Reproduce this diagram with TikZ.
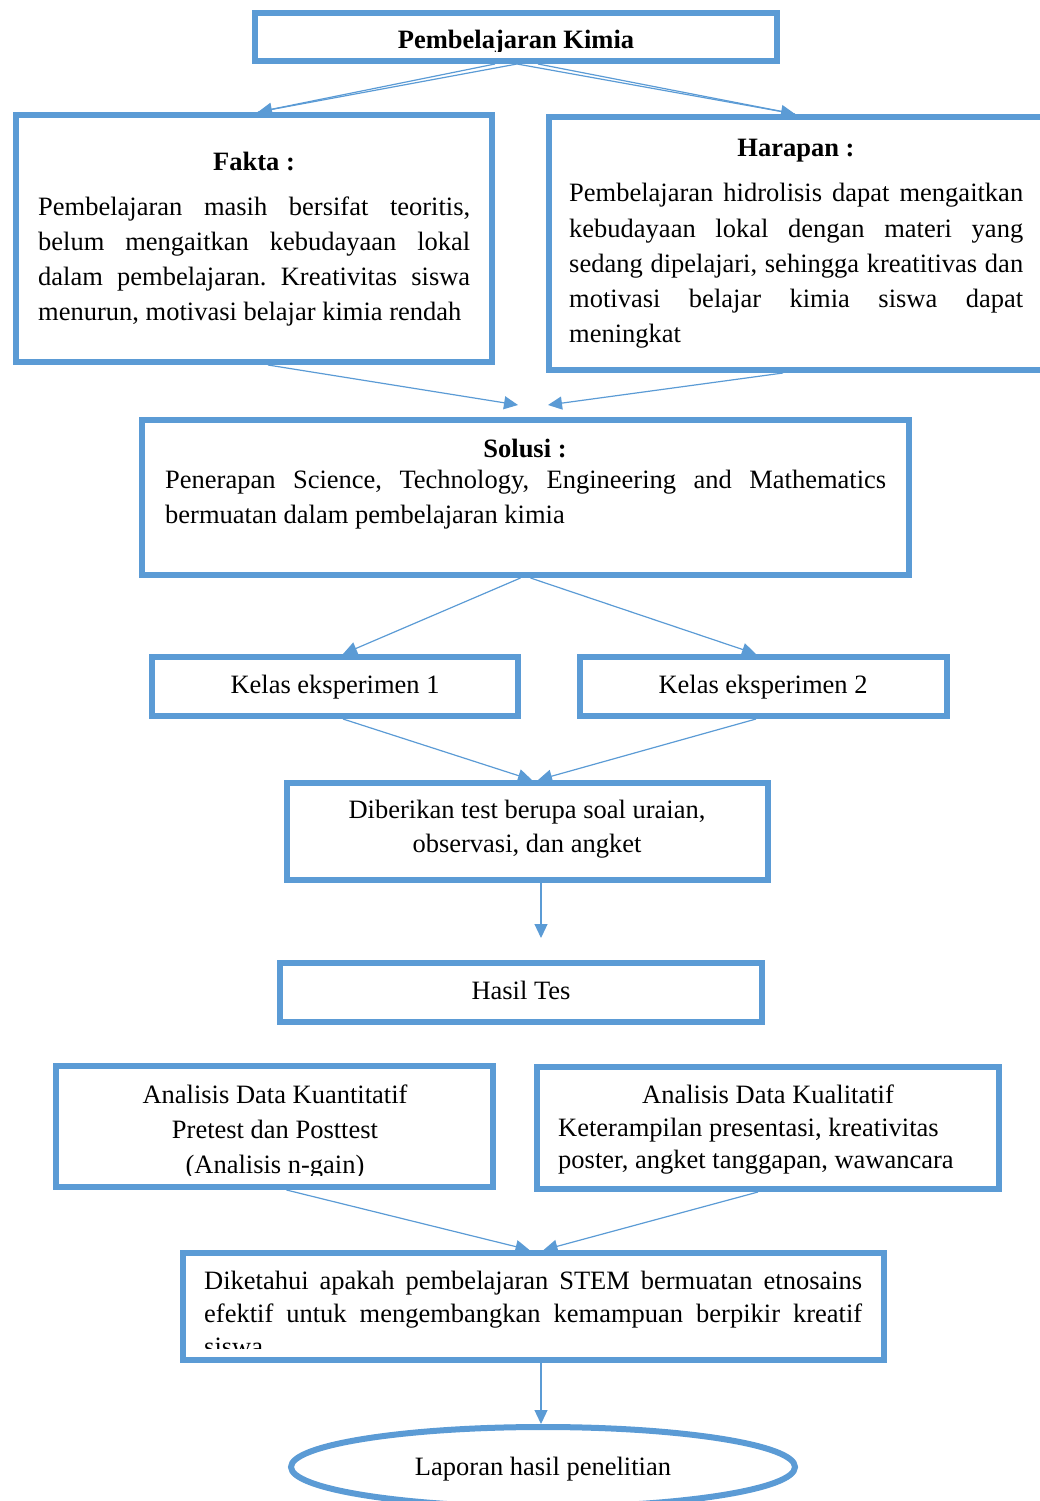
\documentclass[tikz,border=0pt]{standalone}
\usepackage{fontspec}
\setmainfont{Liberation Serif}
\usetikzlibrary{arrows.meta,shapes.geometric}
\definecolor{flow}{RGB}{91,155,213}
\frenchspacing
% a justified line of fixed width
\newcommand{\spreadline}[2]{\makebox[#1][s]{#2}}
% stacked lines whose baseline is the first line's baseline
\newcommand{\leftlines}[2]{\vtop{\baselineskip=#1\relax\lineskiplimit=-100pt\halign{##\hfil\cr #2\crcr}}}
\newcommand{\centerlines}[2]{\vtop{\baselineskip=#1\relax\lineskiplimit=-100pt\halign{\hfil##\hfil\cr #2\crcr}}}

\begin{document}
\begin{tikzpicture}[x=1pt,y=-1pt,
  box/.style={draw=flow,line width=6pt,fill=white,rectangle,inner sep=0pt},
  oval/.style={draw=flow,line width=6pt,fill=white,ellipse,inner sep=0pt},
  conn/.style={draw=flow,line width=1.2pt,-{Triangle[length=14pt,width=13pt]}},
  plain/.style={draw=flow,line width=1.2pt},
  txt/.style={inner sep=0pt,font=\fontsize{26.5}{35}\selectfont},
  head/.style={txt,font=\fontsize{26.5}{35}\selectfont\bfseries,anchor=base},
  ctext/.style={txt,anchor=base},
  ltext/.style={txt,anchor=base west},
]
\useasboundingbox (0,0) rectangle (1039,1501);

% boxes
\node[box,minimum width=522,minimum height=48]  (top)     at (516,37) {};
\node[box,minimum width=476,minimum height=247] (fakta)   at (254,238.5) {};
\node[box,minimum width=498,minimum height=253] (harapan) at (798,243.5) {};
\node[box,minimum width=767,minimum height=155] (solusi)  at (525.5,497.5) {};
\node[box,minimum width=366,minimum height=59]  (k1)      at (335,686.5) {};
\node[box,minimum width=367,minimum height=59]  (k2)      at (763.5,686.5) {};
\node[box,minimum width=481,minimum height=97]  (dib)     at (527.5,831.5) {};
\node[box,minimum width=482,minimum height=59]  (hasil)   at (521,992.5) {};
\node[box,minimum width=437,minimum height=121] (kuant)   at (274.5,1126.5) {};
\node[box,minimum width=462,minimum height=122] (kual)    at (768,1128) {};
\node[box,minimum width=701,minimum height=107] (dik)     at (533.5,1306.5) {};
\node[oval,minimum width=504,minimum height=80] (lap)     at (543,1467) {};

% texts
\begin{scope}
  \clip (255,13) rectangle (777,52);
  \node[head] (ttop) at (516,49) {Pembelajaran Kimia};
\end{scope}

\node[head] (tfakta) at (254,170) {Fakta :};
\node[ltext] (pfakta) at (38,215) {\leftlines{35.2pt}{%
  \spreadline{432pt}{Pembelajaran masih bersifat teoritis,}\cr
  \spreadline{432pt}{belum mengaitkan kebudayaan lokal}\cr
  \spreadline{432pt}{dalam pembelajaran. Kreativitas siswa}\cr
  menurun, motivasi belajar kimia rendah}};

\node[head] (tharapan) at (796,156.7) {Harapan :};
\node[ltext] (pharapan) at (569,201.7) {\leftlines{35.3pt}{%
  \spreadline{454pt}{Pembelajaran hidrolisis dapat mengaitkan}\cr
  \spreadline{454pt}{kebudayaan lokal dengan materi yang}\cr
  \spreadline{454pt}{sedang dipelajari, sehingga kreatitivas dan}\cr
  \spreadline{454pt}{motivasi belajar kimia siswa dapat}\cr
  meningkat}};

\node[head] (tsolusi) at (525,457) {Solusi :};
\node[ltext] (psolusi) at (165,488) {\leftlines{35pt}{%
  \spreadline{721pt}{Penerapan Science, Technology, Engineering and Mathematics}\cr
  bermuatan dalam pembelajaran kimia}};

\node[ctext] (tk1) at (335,693) {Kelas eksperimen 1};
\node[ctext] (tk2) at (763,693) {Kelas eksperimen 2};

\node[ctext] (tdib) at (527,818) {\centerlines{34pt}{Diberikan test berupa soal uraian,\cr observasi, dan angket}};

\node[ctext] (thasil) at (521,999) {Hasil Tes};

\begin{scope}
  \clip (59,1067) rectangle (490,1175);
  \node[ctext] (tkuant) at (275,1103) {\centerlines{35pt}{Analisis Data Kuantitatif\cr Pretest dan Posttest\cr (Analisis n-gain)}};
\end{scope}

\node[ctext] (tkual) at (768,1103) {Analisis Data Kualitatif};
\node[ltext] (pkual) at (558,1136) {\leftlines{32.5pt}{%
  Keterampilan presentasi, kreativitas\cr
  poster, angket tanggapan, wawancara}};

\begin{scope}
  \clip (186,1254) rectangle (881,1348);
  \node[ltext] (pdik) at (204,1289) {\leftlines{33pt}{%
    \spreadline{658pt}{Diketahui apakah pembelajaran STEM bermuatan etnosains}\cr
    \spreadline{658pt}{efektif untuk mengembangkan kemampuan berpikir kreatif}\cr
    siswa}};
\end{scope}

\node[ctext] (tlap) at (543,1475) {Laporan hasil penelitian};

% connectors
\draw[conn]  ([xshift=-21pt]top.south) -- ([xshift=4pt]fakta.north);
\draw[plain] ([xshift=1pt]top.south)   -- ([xshift=4pt]fakta.north);
\draw[conn]  ([xshift=1pt]top.south)   -- ([xshift=-3pt]harapan.north);
\draw[plain] ([xshift=22pt]top.south)  -- ([xshift=-3pt]harapan.north);

\draw[conn] ([xshift=14pt]fakta.south)   -- ([xshift=-7.5pt,yshift=12pt]solusi.north);
\draw[conn] ([xshift=-15pt]harapan.south) -- ([xshift=22.5pt,yshift=12pt]solusi.north);

\draw[conn] ([xshift=-5pt]solusi.south) -- ([xshift=8pt]k1.north);
\draw[conn] ([xshift=5pt]solusi.south)  -- ([xshift=-7.5pt]k2.north);

\draw[conn] ([xshift=8pt]k1.south)    -- ([xshift=4.5pt]dib.north);
\draw[conn] ([xshift=-7.5pt]k2.south) -- ([xshift=10.5pt]dib.north);

\draw[conn] ([xshift=13.5pt]dib.south) -- ([xshift=20pt,yshift=22pt]hasil.north);

\draw[conn] ([xshift=12pt]kuant.south) -- ([xshift=-4pt]dik.north);
\draw[conn] ([xshift=-10pt]kual.south) -- ([xshift=10pt]dik.north);

\draw[conn] ([xshift=7.5pt]dik.south) -- ([xshift=-2pt]lap.north);
\end{tikzpicture}
\end{document}
